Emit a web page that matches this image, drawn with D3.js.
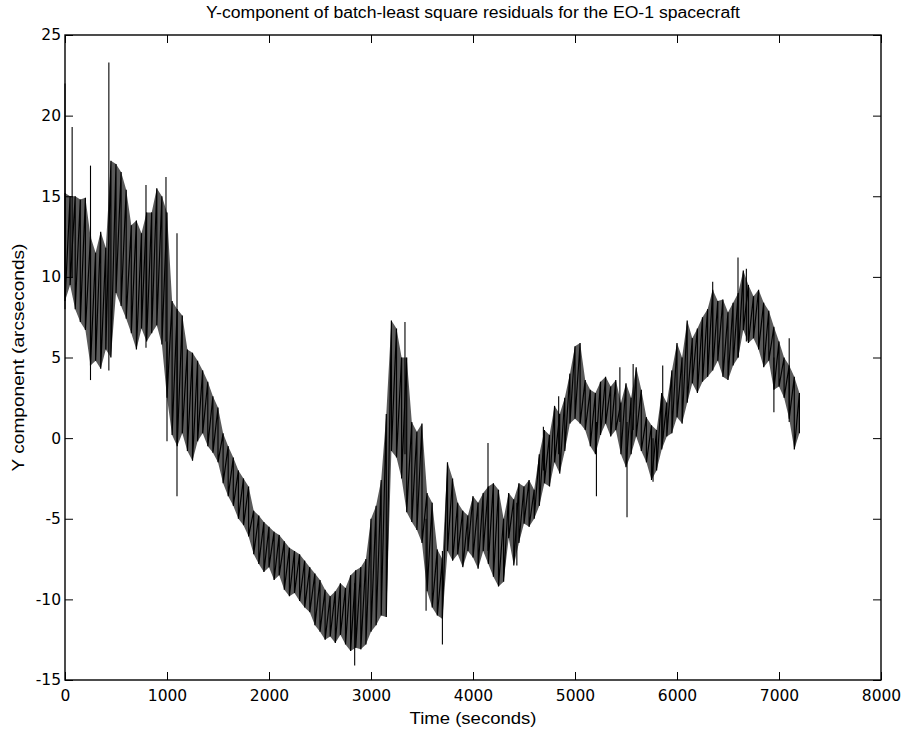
<!DOCTYPE html>
<html><head><meta charset="utf-8">
<script src="https://cdn.jsdelivr.net/npm/d3@7"></script>
<style>body{margin:0;background:#fff}</style>
</head><body><svg id="c" width="911" height="734"></svg>
<script>
const time = [0,50,100,150,200,250,300,350,400,450,500,550,600,650,700,750,800,850,900,950,
1000,1050,1100,1150,1200,1250,1300,1350,1400,1450,1500,1550,1600,1650,1700,1750,1800,1850,1900,1950,
2000,2050,2100,2150,2200,2250,2300,2350,2400,2450,2500,2550,2600,2650,2700,2750,2800,2850,2900,2950,
3000,3050,3100,3150,3200,3250,3300,3350,3400,3450,3500,3550,3600,3650,3700,3750,3800,3850,3900,3950,
4000,4050,4100,4150,4200,4250,4300,4350,4400,4450,4500,4550,4600,4650,4700,4750,4800,4850,4900,4950,
5000,5050,5100,5150,5200,5250,5300,5350,5400,5450,5500,5550,5600,5650,5700,5750,5800,5850,5900,5950,
6000,6050,6100,6150,6200,6250,6300,6350,6400,6450,6500,6550,6600,6650,6700,6750,6800,6850,6900,6950,
7000,7050,7100,7150,7200];
const upper = [15.2,15.0,15.0,14.8,14.9,12.5,11.5,12.8,11.8,17.2,17.0,16.5,15.4,13.2,13.5,12.7,14.0,14.0,15.5,15.0,
14.0,8.5,8.0,7.6,5.5,5.3,4.8,4.2,3.5,2.6,1.9,0.3,-0.5,-1.2,-2.0,-2.5,-3.0,-4.5,-4.8,-5.2,
-5.5,-5.8,-6.0,-6.4,-6.8,-7.0,-7.2,-7.6,-8.0,-8.4,-8.8,-9.4,-9.8,-9.5,-9.0,-9.3,-8.5,-8.2,-8.0,-7.5,
-5.0,-4.2,-2.6,1.5,7.3,6.8,5.0,5.0,1.0,0.4,0.9,-3.4,-4.0,-6.9,-7.5,-1.5,-2.5,-4.0,-4.5,-4.8,
-3.6,-4.0,-3.4,-3.0,-2.8,-3.2,-5.0,-3.4,-3.8,-2.8,-3.0,-2.6,-3.2,-1.0,0.5,0.2,2.0,1.5,2.5,4.0,
5.7,5.9,3.6,3.0,2.8,3.5,3.8,3.2,3.6,2.2,3.4,2.5,4.4,3.0,1.3,0.8,0.5,2.8,2.2,4.2,
5.9,5.0,7.3,6.2,6.8,7.5,8.0,9.2,8.5,8.6,7.8,8.4,9.0,10.4,9.5,8.8,9.2,8.4,7.9,6.9,
6.0,5.0,4.5,3.8,2.8];
const lower = [8.5,9.5,8.0,7.2,6.7,4.5,4.8,4.3,5.5,5.0,9.0,8.2,7.4,6.5,5.5,6.8,6.0,6.5,7.0,5.8,
2.5,0.2,-0.5,0.3,-0.8,-1.4,-0.2,0.3,-0.5,-0.9,-1.5,-2.8,-3.6,-4.2,-5.0,-5.4,-6.1,-7.2,-7.8,-8.3,
-8.0,-8.8,-8.5,-9.4,-9.8,-9.6,-10.1,-10.5,-10.8,-11.6,-12.0,-12.5,-12.3,-12.7,-12.2,-12.8,-13.2,-13.0,-13.1,-12.8,
-12.0,-11.6,-11.0,-11.1,-0.8,-1.2,-2.5,-4.6,-5.2,-5.7,-6.5,-9.5,-10.5,-11.0,-11.2,-7.0,-7.6,-7.2,-8.0,-7.0,
-7.4,-8.1,-7.0,-7.8,-8.6,-9.2,-8.9,-6.2,-7.9,-6.5,-5.3,-5.5,-5.0,-4.2,-2.8,-3.0,-1.5,-2.2,-0.8,0.9,
1.2,0.9,0.5,-0.5,-1.0,0.2,0.9,0.1,0.5,-1.0,-1.8,-1.0,0.1,-0.8,-1.5,-2.6,-2.0,-0.7,0.1,0.3,
1.3,0.9,2.2,3.4,2.8,3.5,3.8,4.2,4.8,3.8,3.6,4.5,5.0,6.7,5.9,6.2,5.5,4.4,4.8,3.0,
3.2,2.5,1.2,-0.7,0.3];
const spikeTime = [0,70,250,430,794,990,1000,1098,2840,3333,3540,3700,4147,4430,4690,4840,5210,5440,5510,5570,5765,5860,6350,6598,6680,6950,7100];
const spikeLow  = [8,10,3.6,4.2,5.6,6,-0.2,-3.6,-14.1,-1,-10.7,-12.8,-7,-7.9,-2,-1,-3.6,1,-4.9,0.5,-2.7,0,5,5,6,1.6,1];
const spikeHigh = [22,19.3,16.9,23.3,15.7,16.2,6,12.7,-9,7.2,-5,-7,-0.3,-4,0.7,2.6,1,4.4,1,4.6,0,4.5,9.7,11.2,10.5,5,6.2];
const xTicks = [0,1000,2000,3000,4000,5000,6000,7000,8000];
const yTicks = [-15,-10,-5,0,5,10,15,20,25];
const titleText = "Y-component of batch-least square residuals for the EO-1 spacecraft";
const xLabel = "Time (seconds)";
const yLabel = "Y component (arcseconds)";

const svg = d3.select("#c");
const L = 65, R = 881, T = 35, B = 680;
const x = d3.scaleLinear().domain([0, 8000]).range([L, R]);
const y = d3.scaleLinear().domain([-15, 25]).range([B, T]);

const band = time.map((t, i) => ({t, u: upper[i], l: lower[i]}));

svg.append("path").datum(band)
  .attr("fill", "#5a5a5a")
  .attr("d", d3.area().x(d => x(d.t)).y0(d => y(d.l)).y1(d => y(d.u)));

const pts = [];
band.forEach(d => { pts.push([d.t, d.u]); pts.push([d.t, d.l]); });
svg.append("path").datum(pts)
  .attr("fill", "none").attr("stroke", "#000").attr("stroke-width", 1.2)
  .attr("d", d3.line().x(d => x(d[0])).y(d => y(d[1])));

svg.append("g").selectAll("line").data(spikeTime).join("line")
  .attr("x1", d => x(d)).attr("x2", d => x(d))
  .attr("y1", (d, i) => y(spikeLow[i])).attr("y2", (d, i) => y(spikeHigh[i]))
  .attr("stroke", "#000").attr("stroke-width", 1.1);

const font = "'DejaVu Sans', sans-serif";
const lfont = "'Liberation Sans', Arial, sans-serif";
function styleAxis(g, showText) {
  g.select(".domain").remove();
  g.selectAll(".tick line").attr("stroke", "#000");
  g.selectAll(".tick text").attr("font-family", font).attr("font-size", 15.5).attr("fill", "#000");
  if (!showText) g.selectAll(".tick text").remove();
}
const fmt = d => String(d);
svg.append("g").attr("transform", `translate(0,${B})`)
  .call(d3.axisBottom(x).tickValues(xTicks).tickSize(-8).tickPadding(10).tickFormat(fmt))
  .call(g => styleAxis(g, true));
svg.append("g").attr("transform", `translate(0,${T})`)
  .call(d3.axisTop(x).tickValues(xTicks).tickSize(-8))
  .call(g => styleAxis(g, false));
svg.append("g").attr("transform", `translate(${L},0)`)
  .call(d3.axisLeft(y).tickValues(yTicks).tickSize(-8).tickPadding(4).tickFormat(fmt))
  .call(g => styleAxis(g, true));
svg.append("g").attr("transform", `translate(${R},0)`)
  .call(d3.axisRight(y).tickValues(yTicks).tickSize(-8))
  .call(g => styleAxis(g, false));

svg.append("rect").attr("x", L).attr("y", T).attr("width", R - L).attr("height", B - T)
  .attr("fill", "none").attr("stroke", "#000").attr("stroke-width", 1.4);

svg.append("text").attr("x", (L + R) / 2).attr("y", 18).attr("text-anchor", "middle")
  .attr("font-family", lfont).attr("font-size", 16)
  .attr("textLength", 534).attr("lengthAdjust", "spacingAndGlyphs").text(titleText);
svg.append("text").attr("x", (L + R) / 2).attr("y", 724).attr("text-anchor", "middle")
  .attr("font-family", lfont).attr("font-size", 17)
  .attr("textLength", 127).attr("lengthAdjust", "spacingAndGlyphs").text(xLabel);
svg.append("text").attr("transform", `translate(24,${(T + B) / 2}) rotate(-90)`).attr("text-anchor", "middle")
  .attr("font-family", lfont).attr("font-size", 17)
  .attr("textLength", 228).attr("lengthAdjust", "spacingAndGlyphs").text(yLabel);
</script></body></html>
